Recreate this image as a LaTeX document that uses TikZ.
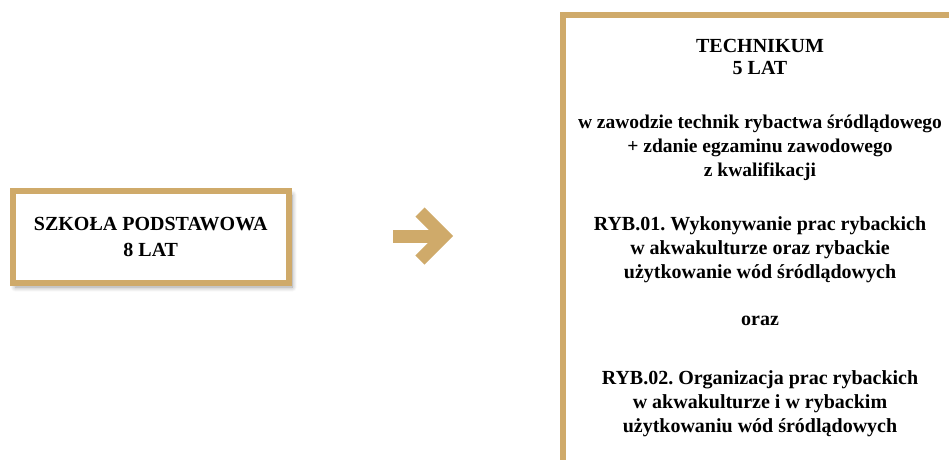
\documentclass[tikz,border=0pt]{standalone}
\usepackage{fontspec}
\setmainfont{Liberation Serif}
\frenchspacing
\usetikzlibrary{calc,positioning,shadows.blur}
\definecolor{gold}{RGB}{207,170,106}

\begin{document}
\begin{tikzpicture}[x=1pt, y=-1pt,
        box/.style={draw=gold, line width=6pt, fill=white, inner sep=0pt,
            blur shadow={shadow xshift=3pt, shadow yshift=-4pt, shadow blur radius=5pt, shadow blur steps=10, shadow opacity=40}},
        txt/.style={align=center, font=\fontsize{20}{24}\selectfont\bfseries, inner sep=0pt},
        arr/.style={draw=gold, line width=13pt, line join=miter}]
        \useasboundingbox (0, 0) rectangle (949, 459);
        \clip (0, 0) rectangle (949, 459);

        \node[box, minimum width=276.5pt, minimum height=92pt] (szkola) at (150.75, 237) {};
        \node[txt, font=\fontsize{20}{26}\selectfont\bfseries] (szkolatxt) at (szkola) {SZKOŁA PODSTAWOWA\\8 LAT};

        \node[box, anchor=north west, minimum width=400pt, minimum height=520pt] (technikum) at (560, 12) {};
        \node[txt, font=\fontsize{20}{22}\selectfont\bfseries] (tytul) at (760, 57) {TECHNIKUM\\5 LAT};
        \node[txt, font=\fontsize{19.5}{24}\selectfont\bfseries] (zawod) at (760, 148) {w zawodzie technik rybactwa śródlądowego\\+ zdanie egzaminu zawodowego\\z kwalifikacji};
        \node[txt] (ryba) at (760, 250) {RYB.01. Wykonywanie prac rybackich\\w akwakulturze oraz rybackie\\użytkowanie wód śródlądowych};
        \node[txt] (oraz) at (760, 321) {oraz};
        \node[txt] (rybb) at (760, 404) {RYB.02. Organizacja prac rybackich\\w akwakulturze i w rybackim\\użytkowaniu wód śródlądowych};

        % strzalka
        \coordinate (A) at (393, 236);
        \coordinate (B) at (444, 236);
        \draw[arr] (A) -- (B);
        \draw[arr] ($(B) + (-24, -24)$) -- (B) -- ($(B) + (-24, 24)$);
    \end{tikzpicture}
\end{document}
